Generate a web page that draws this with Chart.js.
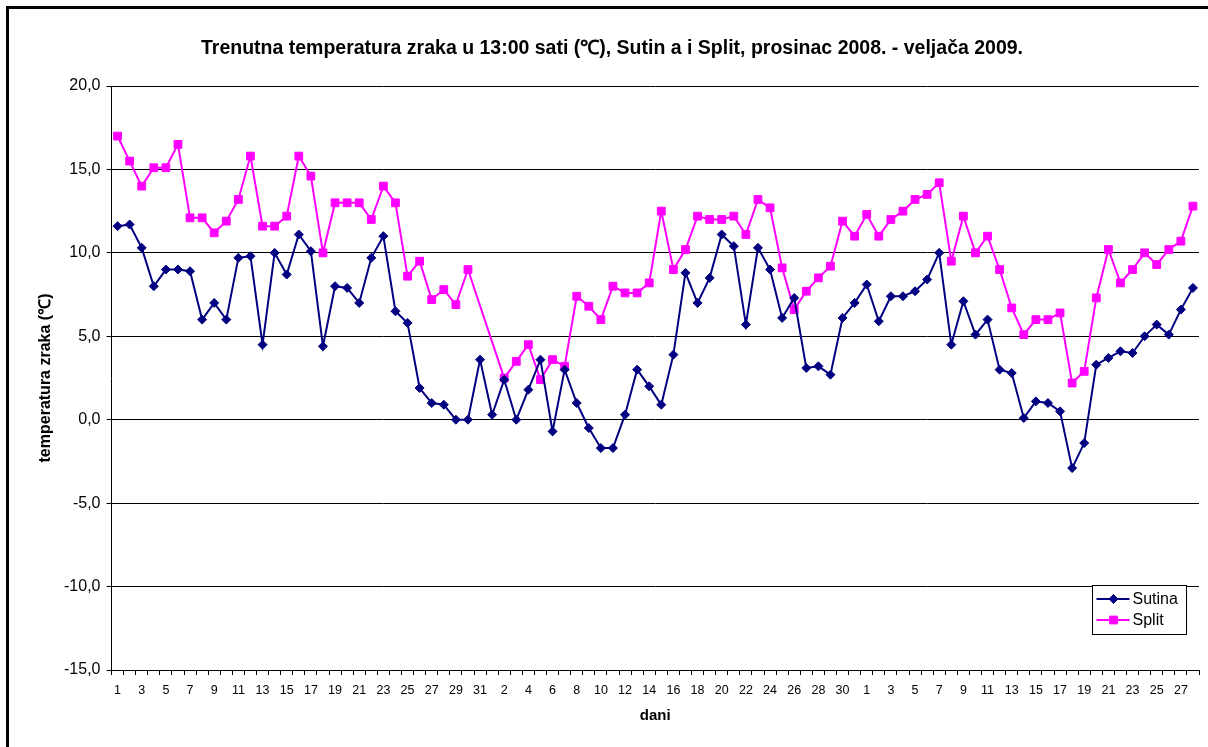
<!DOCTYPE html>
<html>
<head>
<meta charset="utf-8">
<script src="https://cdn.jsdelivr.net/npm/chart.js@4.4.1/dist/chart.umd.min.js"></script>
<style>
  html, body { margin: 0; padding: 0; background: #fff; overflow: hidden; }
  #wrap { position: relative; width: 1208px; height: 747px; }
  #frame { position: absolute; left: 6px; top: 6px; width: 1400px; height: 1000px; border: 3px solid #000; box-sizing: border-box; }
  canvas { position: absolute; left: 0; top: 0; }
</style>
</head>
<body>
<div id="wrap">
  <div id="frame"></div>
  <canvas id="c" width="1208" height="747"></canvas>
</div>
<script>
// ---- data ----
const decDays = ["1","2","3","4","5","6","7","8","9","10","11","12","13","14","15","16","17","18","19","20","21","22","23","24","25","26","27","28","29","30","31"];
const janDays = ["1","2","3","4","5","6","7","8","9","10","11","12","13","14","15","16","17","18","19","20","21","22","23","24","25","26","27","28","29","30","31"];
const febDays = ["1","2","3","4","5","6","7","8","9","10","11","12","13","14","15","16","17","18","19","20","21","22","23","24","25","26","27","28"];
const categories = decDays.concat(janDays, febDays);

const sutinaDec = [11.6, 11.7, 10.3, 8.0, 9.0, 9.0, 8.9, 6.0, 7.0, 6.0, 9.7, 9.8, 4.5, 10.0, 8.7, 11.1, 10.1, 4.4, 8.0, 7.9, 7.0, 9.7, 11.0, 6.5, 5.8, 1.9, 1.0, 0.9, 0.0, 0.0, 3.6];
const sutinaJan = [0.3, 2.4, 0.0, 1.8, 3.6, -0.7, 3.0, 1.0, -0.5, -1.7, -1.7, 0.3, 3.0, 2.0, 0.9, 3.9, 8.8, 7.0, 8.5, 11.1, 10.4, 5.7, 10.3, 9.0, 6.1, 7.3, 3.1, 3.2, 2.7, 6.1, 7.0];
const sutinaFeb = [8.1, 5.9, 7.4, 7.4, 7.7, 8.4, 10.0, 4.5, 7.1, 5.1, 6.0, 3.0, 2.8, 0.1, 1.1, 1.0, 0.5, -2.9, -1.4, 3.3, 3.7, 4.1, 4.0, 5.0, 5.7, 5.1, 6.6, 7.9];

const splitDec = [17.0, 15.5, 14.0, 15.1, 15.1, 16.5, 12.1, 12.1, 11.2, 11.9, 13.2, 15.8, 11.6, 11.6, 12.2, 15.8, 14.6, 10.0, 13.0, 13.0, 13.0, 12.0, 14.0, 13.0, 8.6, 9.5, 7.2, 7.8, 6.9, 9.0, null];
const splitJan = [null, 2.5, 3.5, 4.5, 2.4, 3.6, 3.2, 7.4, 6.8, 6.0, 8.0, 7.6, 7.6, 8.2, 12.5, 9.0, 10.2, 12.2, 12.0, 12.0, 12.2, 11.1, 13.2, 12.7, 9.1, 6.6, 7.7, 8.5, 9.2, 11.9, 11.0];
const splitFeb = [12.3, 11.0, 12.0, 12.5, 13.2, 13.5, 14.2, 9.5, 12.2, 10.0, 11.0, 9.0, 6.7, 5.1, 6.0, 6.0, 6.4, 2.2, 2.9, 7.3, 10.2, 8.2, 9.0, 10.0, 9.3, 10.2, 10.7, 12.8];

const sutina = sutinaDec.concat(sutinaJan, sutinaFeb);
const split = splitDec.concat(splitJan, splitFeb);

const yTicks = [-15, -10, -5, 0, 5, 10, 15, 20];

const chartTitle = "Trenutna temperatura zraka u 13:00 sati (\u2103), Sutin a i Split, prosinac 2008. - veljača 2009.";
const yTitle = "temperatura zraka (\u2103)";
const xTitle = "dani";

// ---- chart ----
const FONT = "'Liberation Sans', Arial, sans-serif";

const boxLegend = {
  id: 'boxLegend',
  afterDraw(chart) {
    const ctx = chart.ctx;
    const ca = chart.chartArea;
    const w = 94, h = 49;
    const x = Math.round(ca.right - 13 - w) + 0.5;
    const y = Math.round(ca.bottom - 36 - h) + 0.5;
    ctx.save();
    ctx.fillStyle = '#fff';
    ctx.fillRect(x, y, w, h);
    ctx.strokeStyle = '#000';
    ctx.lineWidth = 1;
    ctx.strokeRect(x, y, w, h);
    chart.data.datasets.forEach((ds, i) => {
      const cy = y + 13.5 + i * 21;
      ctx.strokeStyle = ds.borderColor;
      ctx.lineWidth = ds.borderWidth;
      ctx.beginPath();
      ctx.moveTo(x + 4, cy);
      ctx.lineTo(x + 37, cy);
      ctx.stroke();
      ctx.fillStyle = ds.pointBackgroundColor;
      ctx.strokeStyle = ds.pointBorderColor;
      ctx.lineWidth = 1;
      Chart.helpers.drawPoint(ctx, { pointStyle: ds.pointStyle, radius: ds.pointRadius, rotation: 0, borderWidth: 1 }, x + 21, cy);
      ctx.fillStyle = '#000';
      ctx.font = "16px " + FONT;
      ctx.textBaseline = 'middle';
      ctx.textAlign = 'left';
      ctx.fillText(ds.label, x + 40, cy + 1);
    });
    ctx.restore();
  }
};

new Chart(document.getElementById('c'), {
  type: 'line',
  data: {
    labels: categories,
    datasets: [
      {
        label: 'Sutina',
        data: sutina,
        borderColor: '#000080',
        backgroundColor: '#000080',
        pointBackgroundColor: '#000080',
        pointBorderColor: '#000080',
        pointStyle: 'rectRot',
        pointRadius: 4.5,
        pointBorderWidth: 1,
        borderWidth: 2,
        tension: 0,
        spanGaps: true
      },
      {
        label: 'Split',
        data: split,
        borderColor: '#FF00FF',
        backgroundColor: '#FF00FF',
        pointBackgroundColor: '#FF00FF',
        pointBorderColor: '#FF00FF',
        pointStyle: 'rect',
        pointRadius: 5.5,
        pointBorderWidth: 1,
        borderWidth: 2,
        tension: 0,
        spanGaps: true
      }
    ]
  },
  options: {
    responsive: false,
    animation: false,
    devicePixelRatio: 1,
    layout: { padding: { left: 25, right: 9, top: 0, bottom: 0 } },
    plugins: {
      legend: { display: false },
      tooltip: { enabled: false },
      title: {
        display: true,
        text: chartTitle,
        color: '#000',
        font: { family: FONT, size: 19.5, weight: 'bold', lineHeight: 1.2 },
        padding: { top: 37, bottom: 25.6 }
      }
    },
    scales: {
      x: {
        type: 'category',
        offset: true,
        grid: {
          display: true,
          offset: true,
          drawOnChartArea: false,
          drawTicks: true,
          tickLength: 5,
          color: '#000'
        },
        border: { display: true, color: '#000', width: 1 },
        ticks: {
          autoSkip: false,
          maxRotation: 0,
          minRotation: 0,
          padding: 8,
          color: '#000',
          font: { family: FONT, size: 12.5 },
          callback: function (value, index) {
            return index % 2 === 0 ? this.getLabelForValue(value) : '';
          }
        },
        title: {
          display: true,
          text: xTitle,
          color: '#000',
          font: { family: FONT, size: 15, weight: 'bold', lineHeight: 1.2 },
          padding: { top: 4, bottom: 22 }
        },
        afterFit: (s) => { s.height = 77; }
      },
      y: {
        min: yTicks[0],
        max: yTicks[yTicks.length - 1],
        grid: {
          color: '#000',
          lineWidth: 1,
          drawTicks: true,
          tickLength: 5
        },
        border: { display: true, color: '#000', width: 1 },
        afterBuildTicks: (s) => { s.ticks = yTicks.map(v => ({ value: v })); },
        ticks: {
          padding: 6,
          color: '#000',
          font: { family: FONT, size: 16 },
          callback: (v) => Number(v).toFixed(1).replace('.', ',')
        },
        title: {
          display: true,
          text: yTitle,
          color: '#000',
          font: { family: FONT, size: 16, weight: 'bold', lineHeight: 1.2 },
          padding: { top: 11, bottom: 4 }
        },
        afterFit: (s) => { s.width = 86.5; }
      }
    }
  },
  plugins: [boxLegend]
});
</script>
</body>
</html>
